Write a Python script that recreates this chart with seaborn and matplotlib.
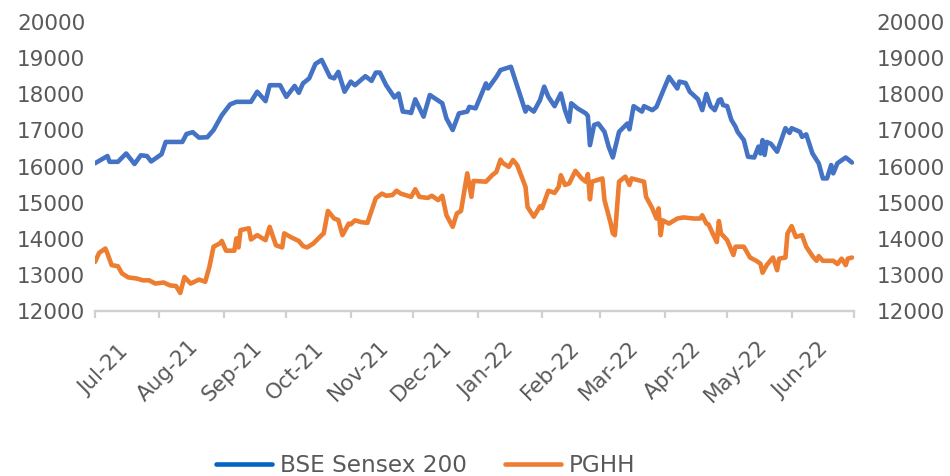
import matplotlib
matplotlib.use("Agg")
import matplotlib.pyplot as plt
import matplotlib.transforms as mtransforms
import numpy as np
import pandas as pd
import seaborn as sbn


# -------------------------------------------------------------------------------------------------------
# data (days since 1 Jul 2021, index level)
# -------------------------------------------------------------------------------------------------------

bse_days = [0, 6, 7, 11, 15, 19, 22, 25, 27, 32, 34, 37, 42, 44, 47, 50, 54, 57, 61, 65,
            68, 75, 78, 82, 84, 89, 92, 96, 98, 100, 103, 106, 109, 113, 115, 117, 120, 123, 125, 130,
            133, 135, 137, 140, 144, 146, 148, 151, 152, 154, 158, 161, 167, 169, 172, 175, 179, 180, 183, 188,
            189, 193, 195, 200, 207, 208, 211, 214, 216, 218, 221, 224, 226, 228, 229, 232, 236, 237, 238, 240,
            242, 245, 247, 249, 252, 256, 257, 259, 263, 264, 268, 270, 272, 276, 280, 281, 284, 286, 290, 292,
            294, 296, 298, 300, 301, 302, 304, 306, 308, 309, 312, 314, 317, 319, 320, 321, 322, 323, 325, 328,
            332, 334, 335, 339, 340, 342, 345, 348, 350, 352, 354, 355, 357, 361, 364]
bse_values = [16090, 16290, 16130, 16130, 16360, 16070, 16310, 16290, 16140, 16340, 16680, 16680, 16680, 16900, 16950, 16800, 16810, 17010, 17420, 17720,
              17790, 17790, 18070, 17810, 18250, 18250, 17930, 18230, 18040, 18300, 18440, 18840, 18950, 18480, 18440, 18620, 18070, 18350, 18250, 18500,
              18370, 18600, 18600, 18250, 17910, 18020, 17520, 17500, 17480, 17860, 17380, 17980, 17750, 17330, 17010, 17470, 17520, 17650, 17610, 18300,
              18160, 18480, 18670, 18760, 17520, 17650, 17520, 17840, 18210, 17930, 17670, 18020, 17560, 17240, 17750, 17610, 17470, 17400, 16590, 17150,
              17190, 16960, 16550, 16250, 16960, 17190, 17030, 17670, 17520, 17670, 17560, 17650, 17930, 18480, 18160, 18350, 18310, 18070, 17860, 17560,
              18010, 17670, 17560, 17840, 17860, 17700, 17670, 17290, 17100, 16960, 16730, 16270, 16250, 16550, 16360, 16730, 16320, 16680, 16630, 16410,
              17060, 16930, 17060, 16960, 16820, 16890, 16360, 16090, 15670, 15670, 16040, 15810, 16090, 16250, 16110]

pghh_days = [0, 2, 5, 6, 8, 10, 11, 13, 16, 20, 23, 26, 29, 33, 36, 39, 41, 43, 46, 50,
             53, 55, 57, 60, 61, 63, 67, 68, 69, 70, 74, 75, 78, 82, 84, 87, 90, 91, 94, 98,
             100, 102, 105, 109, 110, 112, 115, 117, 119, 122, 123, 125, 128, 131, 132, 135, 138, 140, 143, 145,
             147, 152, 154, 156, 160, 162, 165, 167, 169, 172, 174, 176, 179, 181, 182, 188, 191, 193, 195, 196,
             199, 201, 203, 207, 208, 211, 214, 215, 218, 221, 223, 224, 226, 228, 231, 234, 236, 237, 238, 239,
             244, 245, 248, 249, 250, 252, 255, 257, 258, 260, 264, 265, 268, 270, 271, 272, 273, 276, 280, 283,
             288, 291, 292, 294, 295, 297, 299, 300, 301, 304, 307, 308, 312, 315, 318, 320, 321, 323, 326, 328,
             329, 332, 333, 335, 337, 340, 342, 345, 347, 348, 350, 355, 357, 359, 361, 362, 364]
pghh_values = [13360, 13610, 13730, 13590, 13270, 13250, 13240, 13040, 12930, 12900, 12850, 12850, 12760, 12790, 12710, 12690, 12500, 12940, 12760, 12870,
               12810, 13220, 13780, 13870, 13940, 13670, 13670, 14010, 13760, 14240, 14290, 13980, 14100, 13960, 14330, 13820, 13760, 14150, 14050, 13940,
               13800, 13760, 13870, 14100, 14150, 14770, 14560, 14520, 14100, 14420, 14400, 14510, 14460, 14440, 14610, 15120, 15250, 15190, 15210, 15330,
               15250, 15160, 15370, 15160, 15130, 15190, 15070, 15190, 14650, 14330, 14700, 14770, 15810, 15160, 15600, 15580, 15760, 15850, 16190, 16100,
               15990, 16180, 16040, 15440, 14880, 14610, 14900, 14850, 15330, 15270, 15440, 15760, 15490, 15530, 15880, 15670, 15580, 15790, 15090, 15580,
               15670, 15070, 14420, 14150, 14100, 15580, 15720, 15490, 15670, 15640, 15580, 15160, 14840, 14560, 14840, 14100, 14510, 14420, 14560, 14590,
               14560, 14560, 14650, 14420, 14400, 14150, 13910, 14490, 14150, 13960, 13550, 13780, 13780, 13480, 13390, 13310, 13060, 13270, 13480, 13130,
               13450, 13480, 14150, 14350, 14050, 14100, 13780, 13520, 13390, 13520, 13390, 13390, 13300, 13450, 13270, 13450, 13480]

month_ticks = pd.date_range("2021-07-01", "2022-07-01", freq="MS")
y_ticks = [12000, 13000, 14000, 15000, 16000, 17000, 18000, 19000, 20000]

# -------------------------------------------------------------------------------------------------------
# plot
# -------------------------------------------------------------------------------------------------------

sbn.set_theme(style="white")
plt.rcParams["font.family"] = ["DejaVu Sans"]

blue = "#4472C4"
blue_leg = "#0563C1"
orange = "#ED7D31"
grey_txt = "#595959"
grey_ax = "#D0D0D0"
fs = 15.5

start = pd.Timestamp("2021-07-01")
df_bse = pd.DataFrame({"date": start + pd.to_timedelta(bse_days, unit="D"), "value": bse_values})
df_pghh = pd.DataFrame({"date": start + pd.to_timedelta(pghh_days, unit="D"), "value": pghh_values})

fig = plt.figure(figsize=(9.5, 4.76), dpi=100)
ax = fig.add_axes([0.1, 0.3466, 0.799, 0.6072])
ax2 = ax.twinx()

sbn.lineplot(data=df_bse, x="date", y="value", ax=ax, color=blue, linewidth=3.3, label="BSE Sensex 200", legend=False)
sbn.lineplot(data=df_pghh, x="date", y="value", ax=ax2, color=orange, linewidth=3.3, label="PGHH", legend=False)

for a in (ax, ax2):
    a.set_ylim(12000, 20000)
    a.set_yticks(y_ticks)
    a.set_xlim(month_ticks[0], month_ticks[-1])
    a.set_xlabel("")
    a.set_ylabel("")
    for s in ("left", "right", "top"):
        a.spines[s].set_visible(False)
    a.spines["bottom"].set_visible(True)
    a.spines["bottom"].set_color(grey_ax)
    a.spines["bottom"].set_linewidth(1.6)
    a.spines["bottom"].set_zorder(0.5)
    a.grid(False)

ax.tick_params(axis="y", length=0, pad=7, labelsize=fs, labelcolor=grey_txt)
ax2.tick_params(axis="y", length=0, pad=16, labelsize=fs, labelcolor=grey_txt)

ax.set_xticks(month_ticks)
ax.set_xticklabels([d.strftime("%b-%y") for d in month_ticks[:-1]] + [""])
ax.tick_params(axis="x", bottom=True, direction="out", length=5, width=1.6, color=grey_ax,
               labelsize=fs, labelcolor=grey_txt, pad=38)
# excel centres the rotated labels a bit right of each tick
offset = mtransforms.ScaledTranslation(6 / 72, 0, fig.dpi_scale_trans)
for lbl in ax.get_xticklabels():
    lbl.set_rotation(45)
    lbl.set_ha("center")
    lbl.set_va("center")
    lbl.set_rotation_mode("anchor")
    lbl.set_transform(lbl.get_transform() + offset)

h1, l1 = ax.get_legend_handles_labels()
h2, l2 = ax2.get_legend_handles_labels()
leg = fig.legend(h1 + h2, l1 + l2, loc="center", bbox_to_anchor=(426 / 950, 1 - 466 / 476), ncol=2,
                 frameon=False, fontsize=16.7, handlelength=2.4, handletextpad=0.35, columnspacing=1.65,
                 labelcolor=grey_txt)
leg.legend_handles[0].set_color(blue_leg)

fig.savefig("out.png", dpi=100)
